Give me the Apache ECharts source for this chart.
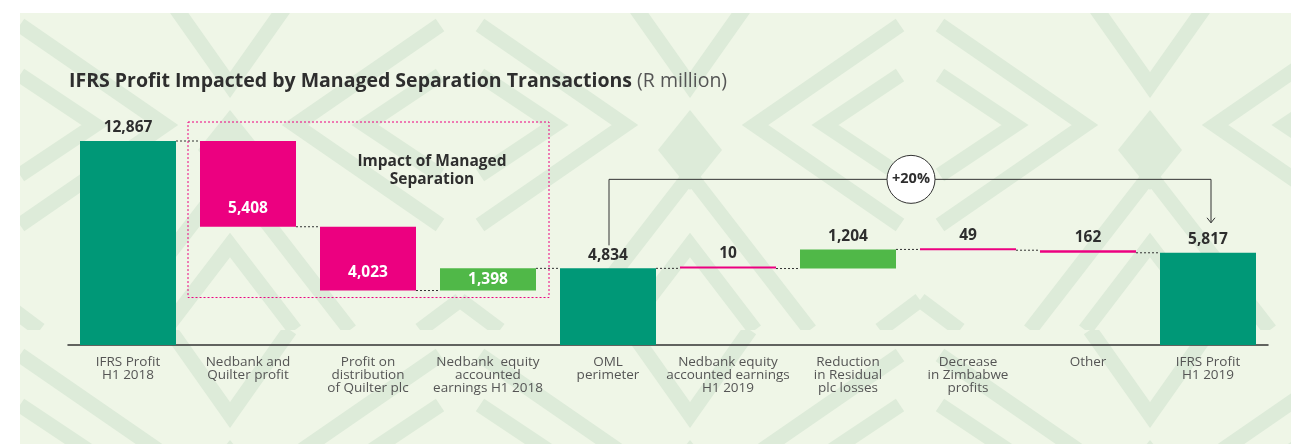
<!DOCTYPE html>
<html><head><meta charset="utf-8">
<script src="https://cdn.jsdelivr.net/npm/echarts@6/dist/echarts.min.js"></script>
<style>html,body{margin:0;padding:0;background:#fff}#c{width:1291px;height:444px}</style>
</head><body><div id="c"></div>
<script>
const categories = ['IFRS Profit\nH1 2018','Nedbank and\nQuilter profit','Profit on\ndistribution\nof Quilter plc','Nedbank  equity\naccounted\nearnings H1 2018','OML\nperimeter','Nedbank equity\naccounted earnings\nH1 2019','Reduction\nin Residual\nplc losses','Decrease\nin Zimbabwe\nprofits','Other','IFRS Profit\nH1 2019'];
const values = [12867, -5408, -4023, 1398, 4834, -10, 1204, -49, -162, 5817];
const kinds = ['total','delta','delta','delta','total','delta','delta','delta','delta','total'];
const groupRange = [1, 3];
const groupTitle = 'Impact of Managed\nSeparation';
const growthLabel = '+20%';
const bracketFrom = 4, bracketTo = 9;
const titleMain = 'IFRS Profit Impacted by Managed Separation Transactions';
const titleUnit = '(R million)';

const TEAL = '#009877', PINK = '#EC0080', GREEN = '#50B848', DARK = '#2e2e2e';
const FONT = 'Open Sans';

let running = 0;
const bases = [], heights = [], levels = [];
values.forEach((v, i) => {
  if (kinds[i] === 'total') { bases.push(0); heights.push(v); running = v; }
  else if (v < 0) { bases.push(running + v); heights.push(-v); running += v; }
  else { bases.push(running); heights.push(v); running += v; }
  levels.push(running);
});
const fmt = v => Math.abs(v).toLocaleString('en-US');

const visData = heights.map((h, i) => {
  const v = values[i];
  const color = kinds[i] === 'total' ? TEAL : (v < 0 ? PINK : GREEN);
  const inGroup = i >= groupRange[0] && i <= groupRange[1];
  let label;
  if (inGroup) {
    label = { position: v < 0 ? 'insideBottom' : 'inside', distance: 10, color: '#fff' };
  } else {
    label = { position: 'top', distance: 5, color: DARK };
  }
  return { value: h, itemStyle: { color }, label };
});

// decorative background tile (nested chevrons forming a diamond lattice)
function makeTile() {
  const W = 460, H = 330;
  const c = document.createElement('canvas');
  c.width = W; c.height = H;
  const g = c.getContext('2d');
  g.fillStyle = '#EFF6E7'; g.fillRect(0, 0, W, H);
  g.strokeStyle = '#DDEBD9'; g.lineWidth = 15; g.lineCap = 'butt'; g.lineJoin = 'miter';
  const seg = pts => { g.beginPath(); g.moveTo(pts[0][0], pts[0][1]); for (let k = 1; k < pts.length; k++) g.lineTo(pts[k][0], pts[k][1]); g.stroke(); };
  // ">" nested
  seg([[20, 25], [165, 125], [20, 225]]);
  seg([[20, 75], [95, 125], [20, 175]]);
  // "<" nested
  seg([[440, 25], [295, 125], [440, 225]]);
  seg([[440, 75], [365, 125], [440, 175]]);
  // "V" at top middle
  seg([[170, 0], [230, 85], [290, 0]]);
  // "^" nested at bottom middle
  seg([[110, 330], [230, 175], [350, 330]]);
  seg([[165, 330], [230, 245], [295, 330]]);
  // bottom corner diagonals
  seg([[0, 300], [40, 330]]);
  seg([[460, 300], [420, 330]]);
  g.fillStyle = '#DDEBD9';
  g.beginPath(); g.moveTo(230, 110); g.lineTo(262, 150); g.lineTo(230, 190); g.lineTo(198, 150); g.closePath(); g.fill();
  return c;
}

const chart = echarts.init(document.getElementById('c'), null, { renderer: 'canvas' });
const option = {
  backgroundColor: '#fff',
  animation: false,
  title: {
    left: 64, top: 66,
    text: '{b|' + titleMain + '}{n| ' + titleUnit + '}',
    textStyle: {
      rich: {
        b: { fontFamily: FONT, fontWeight: 'bold', fontSize: 19.5, color: DARK },
        n: { fontFamily: FONT, fontWeight: 'normal', fontSize: 19.5, color: '#555' }
      }
    }
  },
  grid: { left: 68, right: 23, top: 141, bottom: 99, containLabel: false },
  xAxis: {
    type: 'category', data: categories,
    axisLine: { lineStyle: { color: '#333', width: 1.5 } },
    axisTick: { show: false },
    axisLabel: { interval: 0, color: '#555', fontFamily: FONT, fontSize: 13.5, lineHeight: 13, margin: 11 }
  },
  yAxis: { type: 'value', min: 0, max: 12867, show: false, splitLine: { show: false } },
  series: [
    { type: 'bar', stack: 'w', data: bases, itemStyle: { color: 'transparent' }, barWidth: '80%', silent: true },
    {
      type: 'bar', stack: 'w', data: visData, barWidth: '80%', barMinHeight: 2,
      label: {
        show: true, fontFamily: FONT, fontWeight: 'bold', fontSize: 15.5,
        formatter: p => fmt(values[p.dataIndex])
      }
    },
    {
      type: 'custom', silent: true,
      data: levels.slice(0, -1).map((l, i) => [i, l]),
      renderItem: (params, api) => {
        const i = api.value(0), l = api.value(1);
        const p0 = api.coord([i, l]), p1 = api.coord([i + 1, l]);
        const hw = api.size([1, 0])[0] * 0.4;
        return { type: 'line', shape: { x1: p0[0] + hw, y1: p0[1], x2: p1[0] - hw, y2: p1[1] },
          style: { stroke: '#333', lineWidth: 1, lineDash: [2, 2] } };
      }
    }
  ]
};
chart.setOption(option);

const px = (c, v) => chart.convertToPixel({ gridIndex: 0 }, [c, v]);
const catW = px(1, 0)[0] - px(0, 0)[0];
const gIdx = [];
for (let k = groupRange[0]; k <= groupRange[1]; k++) gIdx.push(k);
const gTop = px(groupRange[0], Math.max(...gIdx.map(k => bases[k] + heights[k])))[1] - 19;
const gBot = px(groupRange[0], Math.min(...gIdx.map(k => bases[k])))[1] + 7;
const gL = px(groupRange[0], 0)[0] - catW / 2;
const gR = px(groupRange[1], 0)[0] + catW / 2 + 1;
const gMid = (px(groupRange[1], 0)[0] + px(groupRange[1] - 1, 0)[0]) / 2 + 4;
const bA = px(bracketFrom, values[bracketFrom]);
const bB = px(bracketTo, values[bracketTo]);
const yTopLine = bA[1] - 89;
const cx = (bA[0] + bB[0]) / 2 + 3;

chart.setOption({
  graphic: [
    { type: 'rect', z: -10, silent: true, shape: { x: 20, y: 13, width: 1271, height: 431 },
      style: { fill: { image: makeTile(), repeat: 'repeat' } } },
    { type: 'rect', z: 5, silent: true, shape: { x: gL, y: gTop, width: gR - gL, height: gBot - gTop },
      style: { fill: 'none', stroke: PINK, lineWidth: 1, lineDash: [2, 2] } },
    { type: 'text', z: 5, silent: true, x: gMid, y: gTop + 31,
      style: { text: groupTitle, fontFamily: FONT, fontWeight: 'bold', fontSize: 15.5, lineHeight: 18,
        fill: DARK, align: 'center', verticalAlign: 'top' } },
    { type: 'polyline', z: 5, silent: true,
      shape: { points: [[bA[0] + 1, bA[1] - 23], [bA[0] + 1, yTopLine], [bB[0] + 3, yTopLine], [bB[0] + 3, bB[1] - 30]] },
      style: { stroke: '#333', lineWidth: 1, fill: 'none' } },
    { type: 'polyline', z: 5, silent: true,
      shape: { points: [[bB[0] - 1, bB[1] - 35], [bB[0] + 3, bB[1] - 30], [bB[0] + 7, bB[1] - 35]] },
      style: { stroke: '#333', lineWidth: 1, fill: 'none' } },
    { type: 'circle', z: 6, silent: true, shape: { cx: cx, cy: yTopLine, r: 24 },
      style: { fill: '#fff', stroke: '#333', lineWidth: 1 } },
    { type: 'text', z: 7, silent: true, x: cx, y: yTopLine,
      style: { text: growthLabel, fontFamily: FONT, fontWeight: 'bold', fontSize: 14.5, fill: DARK, align: 'center', verticalAlign: 'middle' } }
  ]
});
</script></body></html>
